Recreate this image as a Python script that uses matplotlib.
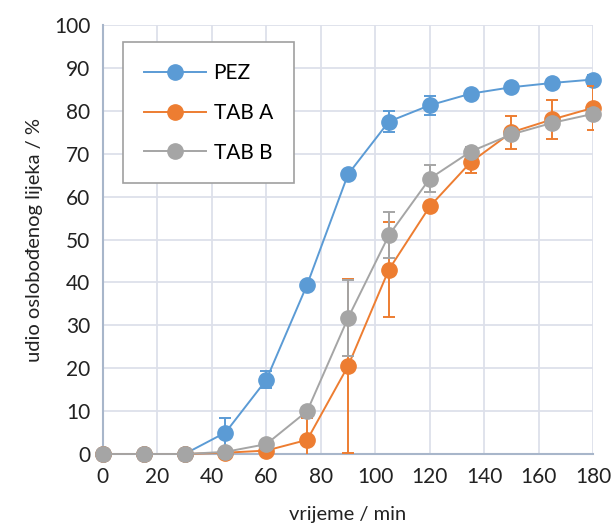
import matplotlib
matplotlib.use('Agg')
import matplotlib.pyplot as plt

plt.rcParams['font.family'] = ['Lato', 'DejaVu Sans']

# time points (min)
vrijeme = [0, 15, 30, 45, 60, 75, 90, 105, 120, 135, 150, 165, 180]

# released drug (%)
pez = [0, 0, 0, 5.0, 17.3, 39.5, 65.2, 77.5, 81.3, 84.0, 85.5, 86.5, 87.3]
tab_a = [0, 0, 0, 0.3, 0.8, 3.3, 20.5, 43.0, 57.7, 68.0, 75.0, 78.0, 80.7]
tab_b = [0, 0, 0, 0.5, 2.3, 10.0, 31.7, 51.0, 64.2, 70.5, 74.5, 77.2, 79.3]

# standard deviations
pez_sd = [0, 0, 0, 3.5, 2.0, 0.5, 0.5, 2.5, 2.2, 0.8, 0.8, 1.0, 1.0]
tab_a_sd = [0, 0, 0, 0.3, 0.5, 5.0, 20.3, 11.0, 1.0, 2.5, 3.8, 4.5, 5.2]
tab_b_sd = [0, 0, 0, 0.3, 0.5, 1.0, 8.8, 5.3, 3.1, 1.0, 1.0, 1.0, 1.2]

series = [('PEZ', pez, pez_sd, '#5B9BD5'),
          ('TAB A', tab_a, tab_a_sd, '#ED7D31'),
          ('TAB B', tab_b, tab_b_sd, '#A5A5A5')]

fig = plt.figure(figsize=(6.16, 5.27), dpi=100)
ax = fig.add_axes([0.167, 0.1385, 0.796, 0.814])

z = 3
for name, vals, sd, col in series:
    # error bars clipped at the axes, line + markers not
    ax.errorbar(vrijeme, vals, yerr=sd, fmt='none', ecolor=col,
                elinewidth=1.4, capsize=4.5, capthick=1.4, zorder=z)
    ax.plot(vrijeme, vals, color=col, lw=1.4, marker='o', markersize=11,
            label=name, clip_on=False, zorder=z + 0.5)
    z += 1

ax.set_xlim(0, 180)
ax.set_ylim(0, 100)
ax.set_xticks(range(0, 181, 20))
ax.set_yticks(range(0, 101, 10))
ax.grid(True, color='#DDE0EA', lw=1.3)
ax.set_axisbelow(True)
for s in ['top', 'right']:
    ax.spines[s].set_visible(False)
for s in ['left', 'bottom']:
    ax.spines[s].set_color('#A8B6CA')
    ax.spines[s].set_linewidth(1.5)
    ax.spines[s].set_zorder(2)
ax.tick_params(length=0, labelsize=15, colors='#222222', pad=9)

ax.set_xlabel('vrijeme / min', fontsize=14.5, color='#222222', labelpad=14)
ax.set_ylabel('udio oslobođenog lijeka / %', fontsize=14.5, color='#222222', labelpad=8)

leg = ax.legend(loc='upper left', bbox_to_anchor=(0.041, 0.96), fontsize=15,
                frameon=True, fancybox=False, edgecolor='#A0A0A0',
                handlelength=3.0, labelspacing=0.95, borderpad=1.0,
                handletextpad=0.35, borderaxespad=0)
leg.get_frame().set_linewidth(1.2)
leg.get_frame().set_alpha(1)

fig.savefig('out.png', dpi=100)
